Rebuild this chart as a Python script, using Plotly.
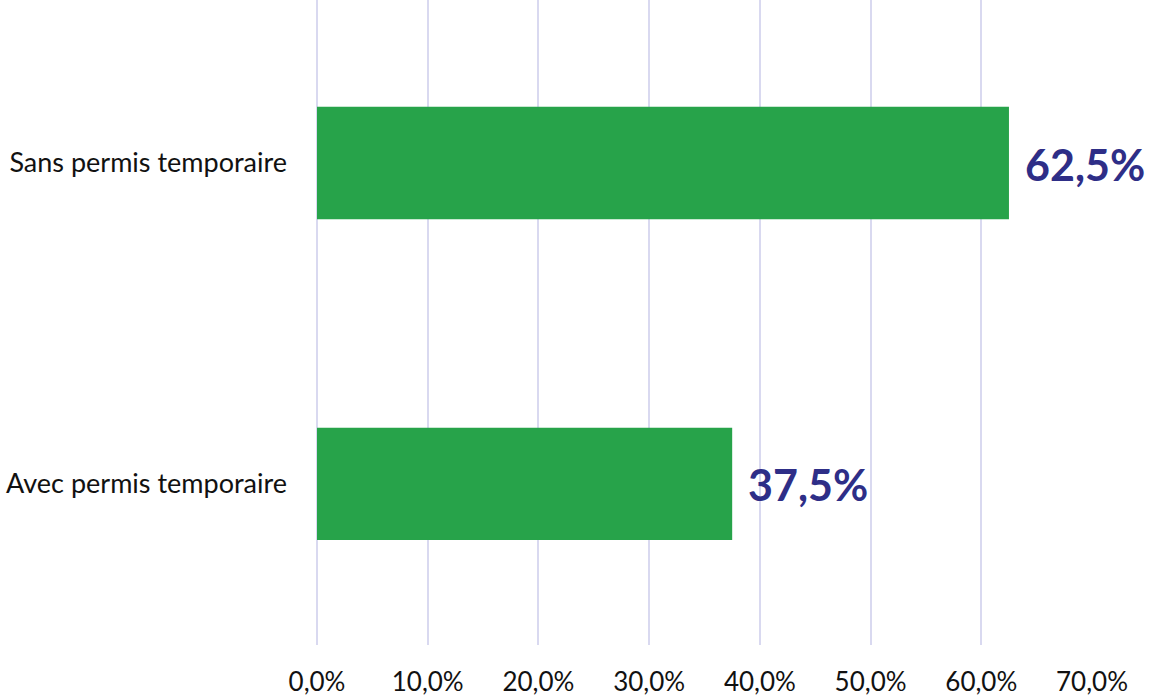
import plotly.graph_objects as go

categories = ["Avec permis temporaire", "Sans permis temporaire"]
values = [37.5, 62.5]
tick_vals = [0, 10, 20, 30, 40, 50, 60, 70]
tick_text = [f"{t:.1f}%".replace(".", ",") for t in tick_vals]

GREEN = "#27A34A"
NAVY = "#2E2E87"
GRID = "#D9D9F0"
FONT = "Lato, 'Open Sans', sans-serif"

fig = go.Figure()
fig.add_trace(go.Bar(
    x=values, y=categories, orientation="h",
    marker=dict(color=GREEN, line=dict(width=0)),
    width=0.35, hoverinfo="skip",
))

for c, v in zip(categories, values):
    fig.add_annotation(
        x=v, y=c, xref="x", yref="y",
        text=f"<b>{v:.1f}%</b>".replace(".", ","),
        showarrow=False, xanchor="left", yanchor="middle", xshift=14, yshift=-1,
        font=dict(family=FONT, size=43, color=NAVY),
    )

fig.update_layout(
    width=1153, height=700,
    margin=dict(l=317, r=61, t=0, b=55, autoexpand=False),
    plot_bgcolor="white", paper_bgcolor="white",
    showlegend=False,
    font=dict(family=FONT, size=27, color="#111111"),
    xaxis=dict(
        range=[0, 70], tickvals=tick_vals, ticktext=tick_text,
        showgrid=True, gridcolor=GRID, gridwidth=2,
        zeroline=True, zerolinecolor=GRID, zerolinewidth=2,
        showline=False, ticks="", ticklabelstandoff=19,
        tickfont=dict(size=26), automargin=False, fixedrange=True,
    ),
    yaxis=dict(
        showgrid=False, zeroline=False, showline=False, ticks="",
        ticklabelstandoff=29, tickfont=dict(size=27),
        range=[-0.502, 1.508], automargin=False, fixedrange=True,
    ),
)

fig.write_html(
    "out.html",
    config={"displayModeBar": False},
    post_script="document.body.style.margin='0';document.body.style.overflow='hidden';",
)
